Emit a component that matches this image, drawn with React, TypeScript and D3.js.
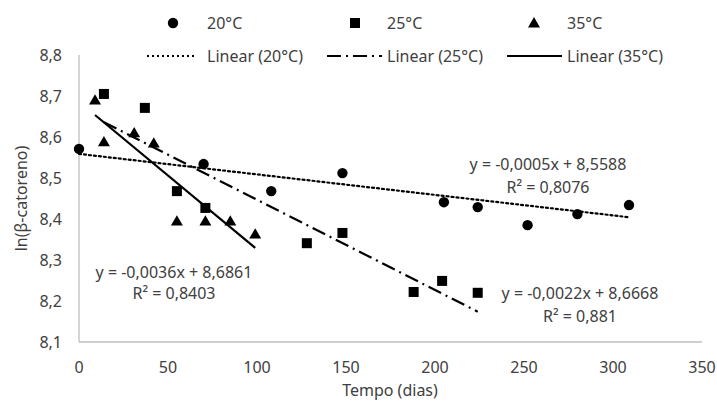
import React from "react";
import * as d3 from "d3";

const days20 = [0, 70, 108, 148, 205, 224, 252, 280, 309];
const vals20 = [8.571, 8.534, 8.468, 8.512, 8.441, 8.429, 8.385, 8.412, 8.434];
const days25 = [14, 37, 55, 71, 128, 148, 188, 204, 224];
const vals25 = [8.705, 8.671, 8.468, 8.427, 8.341, 8.366, 8.222, 8.249, 8.22];
const days35 = [9, 14, 31, 42, 55, 71, 85, 99];
const vals35 = [8.69, 8.588, 8.61, 8.585, 8.395, 8.395, 8.395, 8.363];

const slopes = [-0.0005, -0.0022, -0.0036];
const intercepts = [8.5588, 8.6668, 8.6861];
const eqLabels = ["y = -0,0005x + 8,5588", "y = -0,0022x + 8,6668", "y = -0,0036x + 8,6861"];
const r2Labels = ["R² = 0,8076", "R² = 0,881", "R² = 0,8403"];
const seriesNames = ["20°C", "25°C", "35°C"];
const xTicks = [0, 50, 100, 150, 200, 250, 300, 350];
const yTicks = [8.1, 8.2, 8.3, 8.4, 8.5, 8.6, 8.7, 8.8];

const W = 717, H = 403;
const FONT = "'Noto Sans', 'Open Sans', sans-serif";
const FS = 16;

export default function App() {
  const x = d3.scaleLinear().domain([0, 350]).range([79, 702]);
  const y = d3.scaleLinear().domain([8.1, 8.8]).range([342, 55]);
  const fmt = (v: number) => d3.format(".1f")(v).replace(".", ",");

  const series = [
    { days: days20, vals: vals20, shape: "circle" },
    { days: days25, vals: vals25, shape: "square" },
    { days: days35, vals: vals35, shape: "triangle" },
  ];
  const dashes = ["2 3", "14 5 2 5", ""];

  const marker = (shape: string, cx: number, cy: number, key: any) => {
    if (shape === "circle") return <circle key={key} cx={cx} cy={cy} r={5.2} fill="#000" />;
    if (shape === "square") return <rect key={key} x={cx - 5} y={cy - 5} width={10} height={10} fill="#000" />;
    const p = d3.symbol().type(d3.symbolTriangle).size(62)();
    return <path key={key} d={p as string} transform={`translate(${cx},${cy + 1})`} fill="#000" />;
  };

  const trendPath = (k: number) => {
    const ds = series[k].days;
    const x0 = d3.min(ds) as number, x1 = d3.max(ds) as number;
    const gen = d3.line<number>().x((d) => x(d)).y((d) => y(slopes[k] * d + intercepts[k]));
    return gen([x0, x1]) as string;
  };

  const eqPos = [
    { cx: 548, cy: 170, r2y: 193 },
    { cx: 580, cy: 299, r2y: 322 },
    { cx: 174, cy: 278, r2y: 299 },
  ];

  const legendTop = [
    { mx: 173, tx: 207 },
    { mx: 355, tx: 387 },
    { mx: 534, tx: 567 },
  ];
  const legendBot = [
    { x0: 147, x1: 197, tx: 207 },
    { x0: 327, x1: 382, tx: 387 },
    { x0: 507, x1: 562, tx: 567 },
  ];

  return (
    <svg width={W} height={H} style={{ position: "absolute", left: 0, top: 0, background: "#fff" }} fontFamily={FONT}>
      <rect x={0} y={0} width={W} height={H} fill="#fff" />
      <line x1={x(0)} x2={x(0)} y1={y(8.8)} y2={y(8.1)} stroke="#bfbfbf" strokeWidth={1.3} />
      <line x1={x(0)} x2={x(350)} y1={y(8.1)} y2={y(8.1)} stroke="#bfbfbf" strokeWidth={1.3} />
      {yTicks.map((t) => (
        <text key={t} x={62} y={y(t)} dy="0.35em" textAnchor="end" fontSize={FS} fill="#404040">{fmt(t)}</text>
      ))}
      {xTicks.map((t) => (
        <text key={t} x={x(t)} y={373} textAnchor="middle" fontSize={FS} fill="#404040">{t}</text>
      ))}
      <text x={390} y={396} textAnchor="middle" fontSize={FS} fill="#404040">Tempo (dias)</text>
      <text transform={`translate(27,${y(8.45)}) rotate(-90)`} textAnchor="middle" fontSize={FS} fill="#404040">ln(β-catoreno)</text>

      {[0, 1, 2].map((k) => (
        <path key={k} d={trendPath(k)} fill="none" stroke="#000" strokeWidth={2.2} strokeDasharray={dashes[k]} strokeLinecap={k === 0 ? "round" : "butt"} />
      ))}
      {series.map((s, k) => s.days.map((d, i) => marker(s.shape, x(d), y(s.vals[i]), `${k}-${i}`)))}

      {[0, 1, 2].map((k) => (
        <g key={k} fontSize={FS} fill="#404040" textAnchor="middle">
          <text x={eqPos[k].cx} y={eqPos[k].cy}>{eqLabels[k]}</text>
          <text x={eqPos[k].cx} y={eqPos[k].r2y}>{r2Labels[k]}</text>
        </g>
      ))}

      {[0, 1, 2].map((k) => (
        <g key={k}>
          {marker(series[k].shape, legendTop[k].mx, 23, "lm" + k)}
          <text x={legendTop[k].tx} y={23} dy="0.35em" fontSize={FS} fill="#404040">{seriesNames[k]}</text>
          <line x1={legendBot[k].x0} x2={legendBot[k].x1} y1={56} y2={56} stroke="#000" strokeWidth={2.2} strokeDasharray={dashes[k]} />
          <text x={legendBot[k].tx} y={56} dy="0.35em" fontSize={FS} fill="#404040">{`Linear (${seriesNames[k]})`}</text>
        </g>
      ))}
    </svg>
  );
}
